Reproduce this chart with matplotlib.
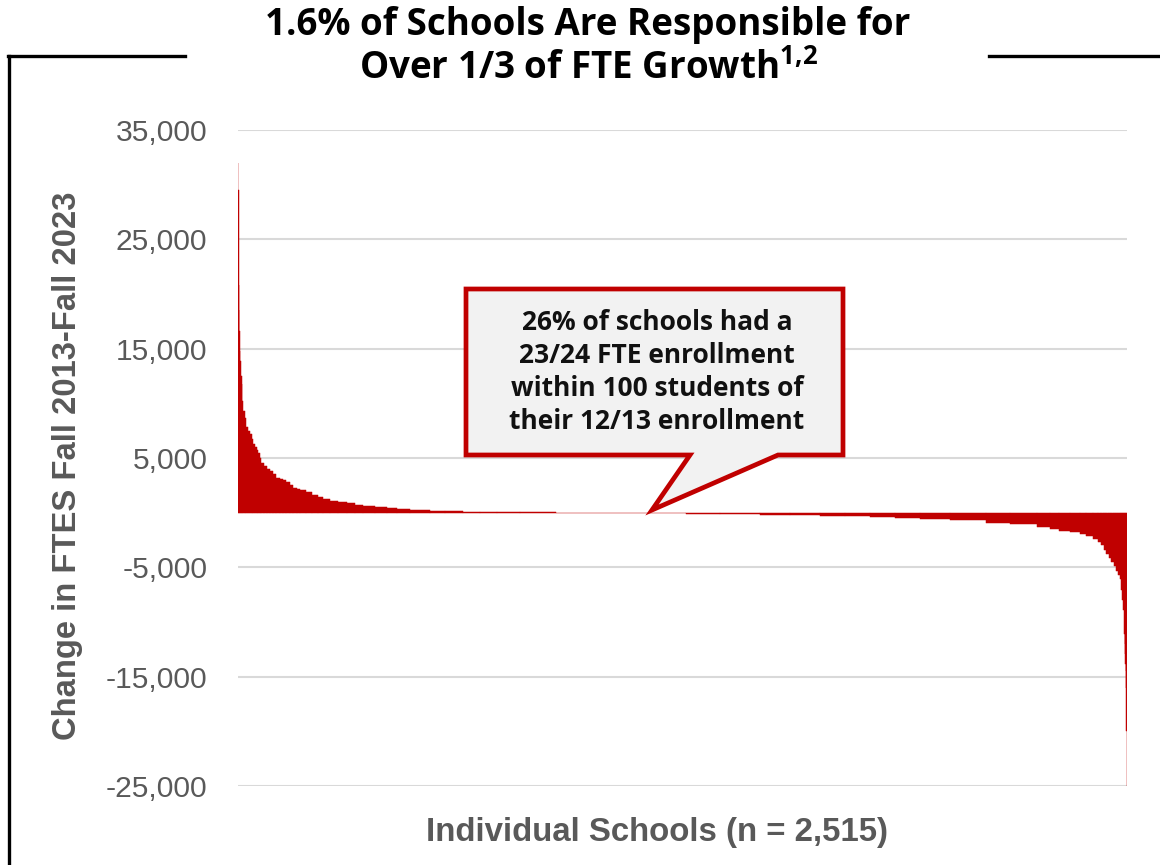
import matplotlib
matplotlib.use("Agg")
import matplotlib.pyplot as plt
from matplotlib.patches import Polygon
from matplotlib.lines import Line2D
import numpy as np

# ---- data: schools sorted by change in FTES ----
# school_rank = first rank of a run, fte_change = change (FTES) from that rank on
school_rank = [1, 2, 3, 4, 5, 6, 7, 9, 11, 13, 15, 20, 25, 28, 34, 40, 43, 48, 54,
               57, 62, 67, 74, 82, 91, 99, 109, 119, 127, 138, 147, 156, 167, 175,
               194, 209, 226, 241, 260, 283, 308, 331, 354, 388, 422, 450, 487, 543,
               586, 637, 685, 733, 798, 900, 1050, 1190,
               1269, 1364, 1477, 1562, 1647, 1717, 1788, 1859, 1930, 2014, 2118,
               2184, 2260, 2297, 2325, 2354, 2382, 2401, 2420, 2433, 2443, 2450,
               2457, 2464, 2472, 2479, 2486, 2491, 2495, 2500, 2502, 2505, 2507,
               2509, 2510, 2511, 2512, 2513, 2514, 2515]
fte_change = [32000, 29500, 20800, 18500, 16600, 14800, 13900, 12500, 11800, 10200,
              9300, 8700, 7800, 7500, 7200, 6700, 6300, 6000, 5700, 5500, 5000,
              4500, 4300, 4000, 3850, 3500, 3200, 3100, 3000, 2800, 2550, 2300,
              2150, 2050, 1860, 1650, 1450, 1250, 1100, 980, 850, 720, 620, 500,
              420, 330, 250, 170, 120, 80, 50, 30, 20, 15, 10, -20,
              -100, -150, -200, -240, -270, -330, -420, -500, -580, -700, -900,
              -1050, -1350, -1500, -1650, -1800, -1950, -2150, -2400, -2700, -3000,
              -3400, -3800, -4150, -4500, -4900, -5300, -5700, -6100, -7100, -8000,
              -8900, -11100, -12000, -12900, -13800, -14500, -16000, -20000, -25100]
n_schools = 2515
y_ticks = [-25000, -15000, -5000, 5000, 15000, 25000, 35000]

title_line1 = "1.6% of Schools Are Responsible for"
title_line2 = r"Over 1/3 of FTE Growth$^{\mathbf{1{,}2}}$"
y_label = "Change in FTES Fall 2013-Fall 2023"
x_label = "Individual Schools (n = 2,515)"
callout = ("26% of schools had a\n23/24 FTE enrollment\n"
           "within 100 students of\ntheir 12/13 enrollment")

RED = "#C00000"
GRAY = "#595959"

plt.rcParams["mathtext.fontset"] = "custom"
plt.rcParams["mathtext.bf"] = "Open Sans:bold"
plt.rcParams["mathtext.rm"] = "Open Sans:bold"

W, H = 1160, 865
fig = plt.figure(figsize=(W / 100, H / 100), dpi=100)

def fx(px):
    return px / W

def fy(py):
    return 1 - py / H

ax = fig.add_axes([fx(238), fy(786), fx(1127) - fx(238), fy(130) - fy(786)])

ranks = np.array(school_rank, dtype=float)
edges = np.append(ranks - 1, n_schools)
widths = np.diff(edges)
ax.bar(ranks - 1, fte_change, width=widths, align="edge", color=RED,
       edgecolor=RED, linewidth=0.35, zorder=3)

ax.set_xlim(0, n_schools)
ax.set_ylim(-25000, 35000)
ax.set_yticks(y_ticks)
ax.set_yticklabels([f"{v:,}" for v in y_ticks], fontfamily="Liberation Sans",
                   fontsize=21.6, color=GRAY)
ax.tick_params(axis="y", length=0, pad=22)
ax.set_xticks([])
ax.grid(axis="y", color="#D9D9D9", linewidth=1.5, zorder=0)
for s in ax.spines.values():
    s.set_visible(False)

# axis labels
fig.text(fx(68), fy(466), y_label, rotation=90, ha="center", va="center",
         fontfamily="Liberation Sans", fontweight="bold", fontsize=23.6, color=GRAY)
fig.text(fx(657), fy(832), x_label, ha="center", va="center",
         fontfamily="Liberation Sans", fontweight="bold", fontsize=23.8, color=GRAY)

# title
fig.text(fx(588), fy(25), title_line1, ha="center", va="center",
         fontfamily="Open Sans", fontweight="bold", fontsize=26.5, color="black")
fig.text(fx(588), fy(69), title_line2, ha="center", va="center",
         fontfamily="Open Sans", fontweight="bold", fontsize=26.5, color="black")

# frame lines
fig.add_artist(Line2D([fx(8.5), fx(8.5)], [fy(55.5), fy(870)], color="black", lw=2.4))
fig.add_artist(Line2D([fx(7.5), fx(185)], [fy(55.5), fy(55.5)], color="black", lw=2.4))
fig.add_artist(Line2D([fx(989), fx(1160)], [fy(55.5), fy(55.5)], color="black", lw=2.4))

# callout with tail
box = [(466, 289), (843, 289), (843, 455), (778, 455), (652, 510),
       (690, 455), (466, 455)]
fig.add_artist(Polygon([(fx(x), fy(y)) for x, y in box], closed=True,
                       facecolor="#F2F2F2", edgecolor=RED, lw=3.4,
                       joinstyle="miter", transform=fig.transFigure, zorder=5))
fig.text(fx(657), fy(372), callout, ha="center", va="center", linespacing=1.3,
         fontfamily="Open Sans", fontweight="bold", fontsize=19, color="#111111",
         zorder=6)

fig.savefig("out.png", dpi=100)
